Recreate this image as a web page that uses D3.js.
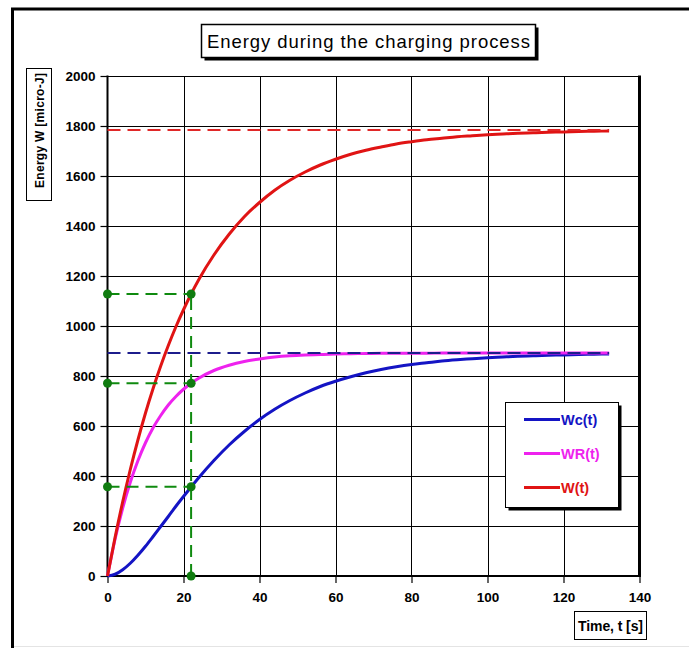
<!DOCTYPE html>
<html>
<head>
<meta charset="utf-8">
<script src="https://cdn.jsdelivr.net/npm/d3@7"></script>
<style>
  body { margin: 0; background: #fff; }
  svg { display: block; }
</style>
</head>
<body>
<div id="chart"></div>
<script>
// values
const times = [0, 2, 4, 6, 8, 10, 12, 14, 16, 18, 20, 22, 24, 28, 32, 36, 40, 44, 48, 52, 56, 60,
               64, 68, 72, 76, 80, 84, 88, 92, 96, 100, 104, 108, 112, 116, 120, 124, 128, 132];
const wc = [0, 7, 25, 51, 83, 119, 158, 198, 238, 279, 318, 356, 393, 462, 524, 578, 626, 667, 702, 732, 758, 779,
            797, 813, 826, 837, 846, 853, 860, 865, 869, 873, 876, 879, 881, 883, 884, 886, 887, 888];
const wr = [0, 148, 272, 375, 461, 533, 593, 642, 684, 718, 747, 771, 791, 822, 843, 858, 868, 876, 881, 884, 886, 888,
            889, 890, 891, 891, 891, 891, 892, 892, 892, 892, 892, 892, 892, 892, 892, 892, 892, 892];
const wTotal = [0, 155, 297, 426, 544, 652, 750, 840, 922, 997, 1065, 1128, 1185, 1284, 1367, 1437, 1494, 1543, 1583, 1616, 1644, 1667,
                1687, 1703, 1716, 1728, 1737, 1745, 1751, 1757, 1761, 1765, 1768, 1771, 1773, 1775, 1776, 1778, 1779, 1780];

const wFinal = 1784;      // W(t) asymptote
const wcFinal = 892;      // Wc / WR asymptote
const tMark = 22;         // time constant marker
const markValues = [1128, 771, 357];

const xTicks = [0, 20, 40, 60, 80, 100, 120, 140];
const yTicks = [0, 200, 400, 600, 800, 1000, 1200, 1400, 1600, 1800, 2000];

const seriesNames = ["Wc(t)", "WR(t)", "W(t)"];
const seriesColors = ["#1414c4", "#ee22ee", "#e01414"];

const width = 689, height = 650;
const plotLeft = 107.5, plotRight = 639.5, plotTop = 76, plotBottom = 576;
const font = "'Liberation Sans', Arial, sans-serif";

const svg = d3.select("#chart").append("svg")
    .attr("width", width)
    .attr("height", height);

// outer frame
svg.append("rect")
    .attr("x", 0).attr("y", 0).attr("width", width).attr("height", height)
    .attr("fill", "#fff");
svg.append("line")
    .attr("x1", 12).attr("x2", width).attr("y1", 646.5).attr("y2", 646.5)
    .attr("stroke", "#e4e4e4").attr("stroke-width", 1);
svg.append("path")
    .attr("d", `M12.5,648 L12.5,9 L${width},9`)
    .attr("fill", "none").attr("stroke", "#000").attr("stroke-width", 3);

const x = d3.scaleLinear().domain([0, 140]).range([plotLeft, plotRight]);
const y = d3.scaleLinear().domain([0, 2000]).range([plotBottom, plotTop]);

// grid
const grid = svg.append("g");
grid.selectAll("line.h")
    .data(yTicks.slice(1))
    .enter().append("line")
    .attr("x1", plotLeft).attr("x2", plotRight)
    .attr("y1", d => Math.round(y(d)) + 0.5).attr("y2", d => Math.round(y(d)) + 0.5)
    .attr("stroke", "#000").attr("stroke-width", 1);
grid.selectAll("line.v")
    .data(xTicks.slice(1, -1))
    .enter().append("line")
    .attr("y1", plotTop).attr("y2", plotBottom)
    .attr("x1", d => Math.round(x(d)) + 0.5).attr("x2", d => Math.round(x(d)) + 0.5)
    .attr("stroke", "#000").attr("stroke-width", 1);

// right border of the plot area (thick)
svg.append("line")
    .attr("x1", plotRight).attr("x2", plotRight)
    .attr("y1", plotTop - 0.5).attr("y2", plotBottom)
    .attr("stroke", "#000").attr("stroke-width", 3);

// axes
const yAxis = svg.append("g")
    .attr("transform", `translate(${plotLeft},0)`)
    .call(d3.axisLeft(y).tickValues(yTicks).tickSize(7).tickPadding(5).tickFormat(d3.format("d")));
const xAxis = svg.append("g")
    .attr("transform", `translate(0,${plotBottom})`)
    .call(d3.axisBottom(x).tickValues(xTicks).tickSize(7).tickPadding(9).tickFormat(d3.format("d")));
[xAxis, yAxis].forEach(a => {
    a.select(".domain").remove();
    a.selectAll(".tick line").attr("stroke", "#000").attr("stroke-width", 1.2);
    a.selectAll(".tick text")
        .attr("fill", "#000")
        .style("font-family", font)
        .style("font-weight", "bold")
        .style("font-size", "13.5px");
});
svg.append("line")
    .attr("x1", plotLeft).attr("x2", plotLeft).attr("y1", plotTop - 0.5).attr("y2", plotBottom + 1)
    .attr("stroke", "#000").attr("stroke-width", 2);
svg.append("line")
    .attr("x1", plotLeft).attr("x2", plotRight + 1.5).attr("y1", plotBottom).attr("y2", plotBottom)
    .attr("stroke", "#000").attr("stroke-width", 2);

// curves
const seriesData = [wc, wr, wTotal];
const line = d3.line()
    .x(d => x(d[0]))
    .y(d => y(d[1]))
    .curve(d3.curveMonotoneX);
seriesData.forEach((vals, i) => {
    svg.append("path")
        .datum(times.map((t, j) => [t, vals[j]]))
        .attr("d", line)
        .attr("fill", "none")
        .attr("stroke", seriesColors[i])
        .attr("stroke-width", 3)
        .attr("stroke-linejoin", "round");
});

// asymptotes
const tEnd = times[times.length - 1];
svg.append("line")
    .attr("x1", x(0)).attr("x2", x(tEnd)).attr("y1", y(wFinal)).attr("y2", y(wFinal))
    .attr("stroke", "#e02828").attr("stroke-width", 2).attr("stroke-dasharray", "13,7");
svg.append("line")
    .attr("x1", x(0)).attr("x2", x(tEnd)).attr("y1", y(wcFinal)).attr("y2", y(wcFinal))
    .attr("stroke", "#1c1c8c").attr("stroke-width", 2).attr("stroke-dasharray", "13,7");

// green markers at t = tau
const green = "#0f8a0f";
markValues.forEach(v => {
    svg.append("line")
        .attr("x1", x(0)).attr("x2", x(tMark)).attr("y1", y(v)).attr("y2", y(v))
        .attr("stroke", green).attr("stroke-width", 2).attr("stroke-dasharray", "12,7");
});
svg.append("line")
    .attr("x1", x(tMark)).attr("x2", x(tMark)).attr("y1", y(0)).attr("y2", y(markValues[0]))
    .attr("stroke", green).attr("stroke-width", 2).attr("stroke-dasharray", "12,7");
const dots = markValues.flatMap(v => [[0, v], [tMark, v]]).concat([[tMark, 0]]);
svg.selectAll("circle.mark")
    .data(dots)
    .enter().append("circle")
    .attr("cx", d => x(d[0])).attr("cy", d => y(d[1]))
    .attr("r", 4.5)
    .attr("fill", "#107c10");

// title box
function shadowBox(x0, y0, w, h, sw) {
    svg.append("rect")
        .attr("x", x0 + 3).attr("y", y0 + 3).attr("width", w).attr("height", h)
        .attr("fill", "#000");
    svg.append("rect")
        .attr("x", x0).attr("y", y0).attr("width", w).attr("height", h)
        .attr("fill", "#fff").attr("stroke", "#000").attr("stroke-width", sw);
}
shadowBox(201.5, 24.5, 334, 33, 1.5);
svg.append("text")
    .attr("x", 368.5).attr("y", 48)
    .attr("text-anchor", "middle")
    .attr("textLength", 323).attr("lengthAdjust", "spacing")
    .style("font-family", font)
    .style("font-size", "18.5px")
    .text("Energy during the charging process");

// y axis title
svg.append("rect")
    .attr("x", 26.5).attr("y", 68.5).attr("width", 25).attr("height", 132)
    .attr("fill", "#fff").attr("stroke", "#000").attr("stroke-width", 1);
svg.append("text")
    .attr("transform", "translate(43.5,130.5) rotate(-90)")
    .attr("text-anchor", "middle")
    .attr("textLength", 115).attr("lengthAdjust", "spacing")
    .style("font-family", font)
    .style("font-weight", "bold")
    .style("font-size", "12px")
    .text("Energy W [micro-J]");

// x axis title
svg.append("rect")
    .attr("x", 574.5).attr("y", 611.5).attr("width", 72).attr("height", 28)
    .attr("fill", "#fff").attr("stroke", "#000").attr("stroke-width", 1);
svg.append("text")
    .attr("x", 610.5).attr("y", 630.5)
    .attr("text-anchor", "middle")
    .attr("textLength", 65).attr("lengthAdjust", "spacing")
    .style("font-family", font)
    .style("font-weight", "bold")
    .style("font-size", "14px")
    .text("Time, t [s]");

// legend
shadowBox(505.5, 402.5, 113, 105, 1);
const legend = svg.append("g");
seriesNames.forEach((name, i) => {
    const ly = 419.5 + i * 34;
    legend.append("line")
        .attr("x1", 524).attr("x2", 560).attr("y1", ly).attr("y2", ly)
        .attr("stroke", seriesColors[i]).attr("stroke-width", 3);
    legend.append("text")
        .attr("x", 561).attr("y", ly + 5.5)
        .attr("fill", seriesColors[i])
        .style("font-family", font)
        .style("font-weight", "bold")
        .style("font-size", "14.5px")
        .text(name);
});
</script>
</body>
</html>
